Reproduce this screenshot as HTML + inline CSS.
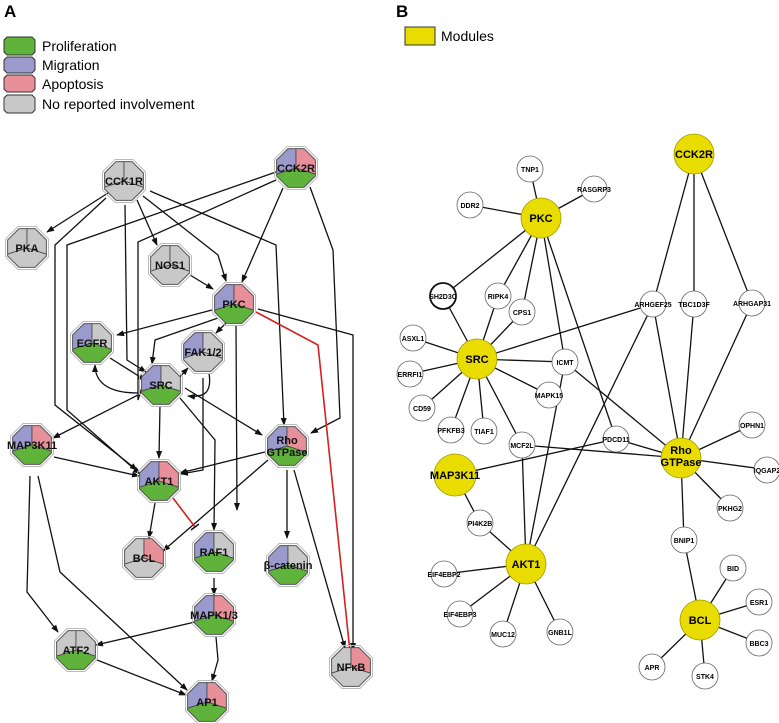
<!DOCTYPE html>
<html><head><meta charset="utf-8"><style>
body{margin:0;background:#fff}
svg{display:block;font-family:"Liberation Sans",Arial,sans-serif}
.e{fill:none;stroke:#111;stroke-width:1.3}
.r{fill:none;stroke:#d42020;stroke-width:1.6}
.o{fill:none;stroke:#555;stroke-width:1}
.h{fill:none;stroke:#bbb;stroke-width:1}
.s{stroke:#444;stroke-width:.8}
.t{font-size:11px;font-weight:bold;text-anchor:middle;fill:#111}
.b line{stroke:#111;stroke-width:1.3}
.c{fill:#fff;stroke:#666;stroke-width:.8}
.y{fill:#e8dc00;stroke:#a09800;stroke-width:.8}
.st{font-size:7px;font-weight:bold;text-anchor:middle}
.bt{font-size:11px;font-weight:bold;text-anchor:middle}
</style></head><body>
<svg width="779" height="723" viewBox="0 0 779 723">
<defs>
<clipPath id="oc"><path d="M8,-19.4L19.4,-8L19.4,8L8,19.4L-8,19.4L-19.4,8L-19.4,-8L-8,-19.4Z"/></clipPath>
<marker id="a" markerWidth="8" markerHeight="8" refX="7" refY="4" orient="auto" markerUnits="userSpaceOnUse"><path d="M0,1L8,4L0,7Z" fill="#111"/></marker>
<marker id="tb" markerWidth="2" markerHeight="10" refX="1" refY="5" orient="auto" markerUnits="userSpaceOnUse"><path d="M1,0V10" stroke="#111" stroke-width="1.5"/></marker>
</defs>
<!-- legend A -->
<text x="4" y="17" font-size="17" font-weight="bold">A</text>
<path d="M7,37H32L35,40V52L32,55H7L4,52V40Z" fill="#5fb33a" stroke="#333"/>
<path d="M7,57H32L35,60V70L32,73H7L4,70V60Z" fill="#9a9acc" stroke="#333"/>
<path d="M7,75H32L35,78V89L32,92H7L4,89V78Z" fill="#e8909a" stroke="#333"/>
<path d="M7,95H32L35,98V110L32,113H7L4,110V98Z" fill="#c8c8c8" stroke="#333"/>
<text x="42" y="51" font-size="14">Proliferation</text>
<text x="42" y="70" font-size="14">Migration</text>
<text x="42" y="89" font-size="14">Apoptosis</text>
<text x="42" y="109" font-size="14">No reported involvement</text>
<text x="396" y="17" font-size="17" font-weight="bold">B</text>
<rect x="405" y="27" width="30" height="18" fill="#e8dc00" stroke="#333"/>
<text x="441" y="41" font-size="14">Modules</text>

<!-- edges A -->
<g>
<polyline class="e" points="108,193 47,232" marker-end="url(#a)"/>
<polyline class="e" points="106,198 55,245 55,405 137,470" marker-end="url(#a)"/>
<polyline class="e" points="276,172 67,245 67,410 140,474" marker-end="url(#a)"/>
<polyline class="e" points="125,205 127,360 146,372" marker-end="url(#a)"/>
<polyline class="e" points="137,200 157,245" marker-end="url(#a)"/>
<polyline class="e" points="143,196 218,255 226,281" marker-end="url(#a)"/>
<polyline class="e" points="150,191 276,245 284,425" marker-end="url(#a)"/>
<polyline class="e" points="276,180 138,242 138,400 145,378" />
<polyline class="e" points="283,188 242,282" marker-end="url(#a)"/>
<polyline class="e" points="310,187 333,250 340,418 311,433" marker-end="url(#a)"/>
<polyline class="e" points="190,275 213,289" marker-end="url(#a)"/>
<polyline class="e" points="212,310 117,335" marker-end="url(#a)"/>
<polyline class="e" points="226,323 216,333" marker-end="url(#a)"/>
<polyline class="e" points="218,318 155,340 152,364" marker-end="url(#a)"/>
<polyline class="e" points="236,325 237,510" marker-end="url(#a)"/>
<polyline class="r" points="256,312 318,345 350,652" marker-end="url(#tb)"/>
<polyline class="e" points="258,309 353,335 353,650" marker-end="url(#a)"/>
<polyline class="e" points="110,358 145,380" marker-end="url(#a)"/>
<path class="e" d="M138,393 C105,393 95,380 95,365" marker-end="url(#a)"/>
<polyline class="e" points="177,380 188,368" marker-end="url(#a)"/>
<path class="e" d="M209,373 C212,392 205,398 188,396" marker-end="url(#a)"/>
<polyline class="e" points="203,378 203,470 181,474" marker-end="url(#a)"/>
<polyline class="e" points="138,395 53,438" marker-end="url(#a)"/>
<polyline class="e" points="160,406 159,458" marker-end="url(#a)"/>
<polyline class="e" points="180,398 215,440 214,530" marker-end="url(#a)"/>
<polyline class="e" points="185,388 262,435" marker-end="url(#a)"/>
<polyline class="e" points="54,457 139,476" marker-end="url(#a)"/>
<polyline class="e" points="30,476 27,592 58,632" marker-end="url(#a)"/>
<polyline class="e" points="38,476 60,572 187,690" marker-end="url(#a)"/>
<polyline class="e" points="265,452 180,473" marker-end="url(#a)"/>
<polyline class="e" points="268,460 163,551" marker-end="url(#a)"/>
<polyline class="e" points="287,470 287,538" marker-end="url(#a)"/>
<polyline class="e" points="294,470 345,648" marker-end="url(#a)"/>
<polyline class="e" points="155,503 149,538" marker-end="url(#a)"/>
<polyline class="r" points="173,498 195,527" marker-end="url(#tb)"/>
<polyline class="e" points="214,578 214,595" marker-end="url(#a)"/>
<polyline class="e" points="195,622 96,645" marker-end="url(#a)"/>
<polyline class="e" points="216,637 218,660 212,681" marker-end="url(#a)"/>
<polyline class="e" points="97,660 186,695" marker-end="url(#a)"/>
</g>

<!-- nodes A -->
<g id="nodesA">
<g transform="translate(124,181)"><path class="h" d="M9,-21.5L21.5,-9L21.5,9L9,21.5L-9,21.5L-21.5,9L-21.5,-9L-9,-21.5Z"/><g clip-path="url(#oc)"><path class="s" d="M0 0V-22H-22V7Z" fill="#c8c8c8"/><path class="s" d="M0 0V-22H22V7Z" fill="#c8c8c8"/><path class="s" d="M0 0L-22 7V22H22V7Z" fill="#c8c8c8"/></g><path class="o" d="M8,-19.4L19.4,-8L19.4,8L8,19.4L-8,19.4L-19.4,8L-19.4,-8L-8,-19.4Z"/><text class="t" y="4">CCK1R</text></g>
<g transform="translate(296,168)"><path class="h" d="M9,-21.5L21.5,-9L21.5,9L9,21.5L-9,21.5L-21.5,9L-21.5,-9L-9,-21.5Z"/><g clip-path="url(#oc)"><path class="s" d="M0 0V-22H-22V7Z" fill="#9a9acc"/><path class="s" d="M0 0V-22H22V7Z" fill="#e8909a"/><path class="s" d="M0 0L-22 7V22H22V7Z" fill="#5fb33a"/></g><path class="o" d="M8,-19.4L19.4,-8L19.4,8L8,19.4L-8,19.4L-19.4,8L-19.4,-8L-8,-19.4Z"/><text class="t" y="4">CCK2R</text></g>
<g transform="translate(27,248)"><path class="h" d="M9,-21.5L21.5,-9L21.5,9L9,21.5L-9,21.5L-21.5,9L-21.5,-9L-9,-21.5Z"/><g clip-path="url(#oc)"><path class="s" d="M0 0V-22H-22V7Z" fill="#c8c8c8"/><path class="s" d="M0 0V-22H22V7Z" fill="#c8c8c8"/><path class="s" d="M0 0L-22 7V22H22V7Z" fill="#c8c8c8"/></g><path class="o" d="M8,-19.4L19.4,-8L19.4,8L8,19.4L-8,19.4L-19.4,8L-19.4,-8L-8,-19.4Z"/><text class="t" y="4">PKA</text></g>
<g transform="translate(170,265)"><path class="h" d="M9,-21.5L21.5,-9L21.5,9L9,21.5L-9,21.5L-21.5,9L-21.5,-9L-9,-21.5Z"/><g clip-path="url(#oc)"><path class="s" d="M0 0V-22H-22V7Z" fill="#c8c8c8"/><path class="s" d="M0 0V-22H22V7Z" fill="#c8c8c8"/><path class="s" d="M0 0L-22 7V22H22V7Z" fill="#c8c8c8"/></g><path class="o" d="M8,-19.4L19.4,-8L19.4,8L8,19.4L-8,19.4L-19.4,8L-19.4,-8L-8,-19.4Z"/><text class="t" y="4">NOS1</text></g>
<g transform="translate(234,304)"><path class="h" d="M9,-21.5L21.5,-9L21.5,9L9,21.5L-9,21.5L-21.5,9L-21.5,-9L-9,-21.5Z"/><g clip-path="url(#oc)"><path class="s" d="M0 0V-22H-22V7Z" fill="#9a9acc"/><path class="s" d="M0 0V-22H22V7Z" fill="#e8909a"/><path class="s" d="M0 0L-22 7V22H22V7Z" fill="#5fb33a"/></g><path class="o" d="M8,-19.4L19.4,-8L19.4,8L8,19.4L-8,19.4L-19.4,8L-19.4,-8L-8,-19.4Z"/><text class="t" y="4">PKC</text></g>
<g transform="translate(92,343)"><path class="h" d="M9,-21.5L21.5,-9L21.5,9L9,21.5L-9,21.5L-21.5,9L-21.5,-9L-9,-21.5Z"/><g clip-path="url(#oc)"><path class="s" d="M0 0V-22H-22V7Z" fill="#9a9acc"/><path class="s" d="M0 0V-22H22V7Z" fill="#c8c8c8"/><path class="s" d="M0 0L-22 7V22H22V7Z" fill="#5fb33a"/></g><path class="o" d="M8,-19.4L19.4,-8L19.4,8L8,19.4L-8,19.4L-19.4,8L-19.4,-8L-8,-19.4Z"/><text class="t" y="4">EGFR</text></g>
<g transform="translate(203,352)"><path class="h" d="M9,-21.5L21.5,-9L21.5,9L9,21.5L-9,21.5L-21.5,9L-21.5,-9L-9,-21.5Z"/><g clip-path="url(#oc)"><path class="s" d="M0 0V-22H-22V7Z" fill="#9a9acc"/><path class="s" d="M0 0V-22H22V7Z" fill="#c8c8c8"/><path class="s" d="M0 0L-22 7V22H22V7Z" fill="#c8c8c8"/></g><path class="o" d="M8,-19.4L19.4,-8L19.4,8L8,19.4L-8,19.4L-19.4,8L-19.4,-8L-8,-19.4Z"/><text class="t" y="4">FAK1/2</text></g>
<g transform="translate(161,385)"><path class="h" d="M9,-21.5L21.5,-9L21.5,9L9,21.5L-9,21.5L-21.5,9L-21.5,-9L-9,-21.5Z"/><g clip-path="url(#oc)"><path class="s" d="M0 0V-22H-22V7Z" fill="#9a9acc"/><path class="s" d="M0 0V-22H22V7Z" fill="#c8c8c8"/><path class="s" d="M0 0L-22 7V22H22V7Z" fill="#5fb33a"/></g><path class="o" d="M8,-19.4L19.4,-8L19.4,8L8,19.4L-8,19.4L-19.4,8L-19.4,-8L-8,-19.4Z"/><text class="t" y="4">SRC</text></g>
<g transform="translate(32,445)"><path class="h" d="M9,-21.5L21.5,-9L21.5,9L9,21.5L-9,21.5L-21.5,9L-21.5,-9L-9,-21.5Z"/><g clip-path="url(#oc)"><path class="s" d="M0 0V-22H-22V7Z" fill="#9a9acc"/><path class="s" d="M0 0V-22H22V7Z" fill="#e8909a"/><path class="s" d="M0 0L-22 7V22H22V7Z" fill="#5fb33a"/></g><path class="o" d="M8,-19.4L19.4,-8L19.4,8L8,19.4L-8,19.4L-19.4,8L-19.4,-8L-8,-19.4Z"/><text class="t" y="4">MAP3K11</text></g>
<g transform="translate(159,481)"><path class="h" d="M9,-21.5L21.5,-9L21.5,9L9,21.5L-9,21.5L-21.5,9L-21.5,-9L-9,-21.5Z"/><g clip-path="url(#oc)"><path class="s" d="M0 0V-22H-22V7Z" fill="#9a9acc"/><path class="s" d="M0 0V-22H22V7Z" fill="#e8909a"/><path class="s" d="M0 0L-22 7V22H22V7Z" fill="#5fb33a"/></g><path class="o" d="M8,-19.4L19.4,-8L19.4,8L8,19.4L-8,19.4L-19.4,8L-19.4,-8L-8,-19.4Z"/><text class="t" y="4">AKT1</text></g>
<g transform="translate(287,446)"><path class="h" d="M9,-21.5L21.5,-9L21.5,9L9,21.5L-9,21.5L-21.5,9L-21.5,-9L-9,-21.5Z"/><g clip-path="url(#oc)"><path class="s" d="M0 0V-22H-22V7Z" fill="#9a9acc"/><path class="s" d="M0 0V-22H22V7Z" fill="#e8909a"/><path class="s" d="M0 0L-22 7V22H22V7Z" fill="#5fb33a"/></g><path class="o" d="M8,-19.4L19.4,-8L19.4,8L8,19.4L-8,19.4L-19.4,8L-19.4,-8L-8,-19.4Z"/><text class="t" y="-2">Rho</text><text class="t" y="10">GTPase</text></g>
<g transform="translate(144,558)"><path class="h" d="M9,-21.5L21.5,-9L21.5,9L9,21.5L-9,21.5L-21.5,9L-21.5,-9L-9,-21.5Z"/><g clip-path="url(#oc)"><path class="s" d="M0 0V-22H-22V7Z" fill="#c8c8c8"/><path class="s" d="M0 0V-22H22V7Z" fill="#e8909a"/><path class="s" d="M0 0L-22 7V22H22V7Z" fill="#c8c8c8"/></g><path class="o" d="M8,-19.4L19.4,-8L19.4,8L8,19.4L-8,19.4L-19.4,8L-19.4,-8L-8,-19.4Z"/><text class="t" y="4">BCL</text></g>
<g transform="translate(214,552)"><path class="h" d="M9,-21.5L21.5,-9L21.5,9L9,21.5L-9,21.5L-21.5,9L-21.5,-9L-9,-21.5Z"/><g clip-path="url(#oc)"><path class="s" d="M0 0V-22H-22V7Z" fill="#9a9acc"/><path class="s" d="M0 0V-22H22V7Z" fill="#c8c8c8"/><path class="s" d="M0 0L-22 7V22H22V7Z" fill="#5fb33a"/></g><path class="o" d="M8,-19.4L19.4,-8L19.4,8L8,19.4L-8,19.4L-19.4,8L-19.4,-8L-8,-19.4Z"/><text class="t" y="4">RAF1</text></g>
<g transform="translate(288,565)"><path class="h" d="M9,-21.5L21.5,-9L21.5,9L9,21.5L-9,21.5L-21.5,9L-21.5,-9L-9,-21.5Z"/><g clip-path="url(#oc)"><path class="s" d="M0 0V-22H-22V7Z" fill="#9a9acc"/><path class="s" d="M0 0V-22H22V7Z" fill="#c8c8c8"/><path class="s" d="M0 0L-22 7V22H22V7Z" fill="#5fb33a"/></g><path class="o" d="M8,-19.4L19.4,-8L19.4,8L8,19.4L-8,19.4L-19.4,8L-19.4,-8L-8,-19.4Z"/><text class="t" y="4">β-catenin</text></g>
<g transform="translate(214,615)"><path class="h" d="M9,-21.5L21.5,-9L21.5,9L9,21.5L-9,21.5L-21.5,9L-21.5,-9L-9,-21.5Z"/><g clip-path="url(#oc)"><path class="s" d="M0 0V-22H-22V7Z" fill="#9a9acc"/><path class="s" d="M0 0V-22H22V7Z" fill="#e8909a"/><path class="s" d="M0 0L-22 7V22H22V7Z" fill="#5fb33a"/></g><path class="o" d="M8,-19.4L19.4,-8L19.4,8L8,19.4L-8,19.4L-19.4,8L-19.4,-8L-8,-19.4Z"/><text class="t" y="4">MAPK1/3</text></g>
<g transform="translate(76,650)"><path class="h" d="M9,-21.5L21.5,-9L21.5,9L9,21.5L-9,21.5L-21.5,9L-21.5,-9L-9,-21.5Z"/><g clip-path="url(#oc)"><path class="s" d="M0 0V-22H-22V7Z" fill="#c8c8c8"/><path class="s" d="M0 0V-22H22V7Z" fill="#c8c8c8"/><path class="s" d="M0 0L-22 7V22H22V7Z" fill="#5fb33a"/></g><path class="o" d="M8,-19.4L19.4,-8L19.4,8L8,19.4L-8,19.4L-19.4,8L-19.4,-8L-8,-19.4Z"/><text class="t" y="4">ATF2</text></g>
<g transform="translate(207,702)"><path class="h" d="M9,-21.5L21.5,-9L21.5,9L9,21.5L-9,21.5L-21.5,9L-21.5,-9L-9,-21.5Z"/><g clip-path="url(#oc)"><path class="s" d="M0 0V-22H-22V7Z" fill="#9a9acc"/><path class="s" d="M0 0V-22H22V7Z" fill="#e8909a"/><path class="s" d="M0 0L-22 7V22H22V7Z" fill="#5fb33a"/></g><path class="o" d="M8,-19.4L19.4,-8L19.4,8L8,19.4L-8,19.4L-19.4,8L-19.4,-8L-8,-19.4Z"/><text class="t" y="4">AP1</text></g>
<g transform="translate(351,667)"><path class="h" d="M9,-21.5L21.5,-9L21.5,9L9,21.5L-9,21.5L-21.5,9L-21.5,-9L-9,-21.5Z"/><g clip-path="url(#oc)"><path class="s" d="M0 0V-22H-22V7Z" fill="#c8c8c8"/><path class="s" d="M0 0V-22H22V7Z" fill="#e8909a"/><path class="s" d="M0 0L-22 7V22H22V7Z" fill="#c8c8c8"/></g><path class="o" d="M8,-19.4L19.4,-8L19.4,8L8,19.4L-8,19.4L-19.4,8L-19.4,-8L-8,-19.4Z"/><text class="t" y="4">NFκB</text></g>
</g>

<!-- panel B edges -->
<g class="b">
<line x1="694" y1="154" x2="653" y2="304"/><line x1="694" y1="154" x2="694" y2="304"/><line x1="694" y1="154" x2="752" y2="303"/>
<line x1="541" y1="218" x2="530" y2="169"/><line x1="541" y1="218" x2="594" y2="189"/><line x1="541" y1="218" x2="470" y2="205"/>
<line x1="541" y1="218" x2="443" y2="296"/><line x1="541" y1="218" x2="498" y2="296"/><line x1="541" y1="218" x2="522" y2="312"/>
<line x1="541" y1="218" x2="565" y2="362"/><line x1="541" y1="218" x2="616" y2="439"/>
<line x1="477" y1="359" x2="443" y2="296"/><line x1="477" y1="359" x2="498" y2="296"/><line x1="477" y1="359" x2="522" y2="312"/>
<line x1="477" y1="359" x2="413" y2="338"/><line x1="477" y1="359" x2="410" y2="374"/><line x1="477" y1="359" x2="422" y2="408"/>
<line x1="477" y1="359" x2="451" y2="430"/><line x1="477" y1="359" x2="484" y2="431"/><line x1="477" y1="359" x2="522" y2="445"/>
<line x1="477" y1="359" x2="549" y2="395"/><line x1="477" y1="359" x2="565" y2="362"/><line x1="477" y1="359" x2="653" y2="304"/>
<line x1="653" y1="304" x2="526" y2="564"/><line x1="653" y1="304" x2="681" y2="458"/><line x1="694" y1="304" x2="681" y2="458"/><line x1="752" y1="303" x2="681" y2="458"/>
<line x1="565" y1="362" x2="526" y2="564"/><line x1="565" y1="362" x2="681" y2="458"/>
<line x1="522" y1="445" x2="526" y2="564"/><line x1="522" y1="445" x2="681" y2="458"/>
<line x1="455" y1="475" x2="616" y2="439"/><line x1="616" y1="439" x2="681" y2="458"/>
<line x1="681" y1="458" x2="752" y2="425"/><line x1="681" y1="458" x2="770" y2="470"/><line x1="681" y1="458" x2="730" y2="508"/><line x1="681" y1="458" x2="684" y2="540"/>
<line x1="684" y1="540" x2="700" y2="620"/>
<line x1="700" y1="620" x2="733" y2="568"/><line x1="700" y1="620" x2="759" y2="602"/><line x1="700" y1="620" x2="759" y2="643"/><line x1="700" y1="620" x2="652" y2="667"/><line x1="700" y1="620" x2="705" y2="676"/>
<line x1="455" y1="475" x2="480" y2="523"/><line x1="480" y1="523" x2="526" y2="564"/>
<line x1="526" y1="564" x2="444" y2="574"/><line x1="526" y1="564" x2="460" y2="614"/><line x1="526" y1="564" x2="503" y2="634"/><line x1="526" y1="564" x2="560" y2="632"/>
</g>
<!-- panel B nodes -->
<g>
<circle class="y" cx="694" cy="154" r="20"/><text class="bt" x="694" y="158">CCK2R</text>
<circle class="y" cx="541" cy="218" r="20"/><text class="bt" x="541" y="222">PKC</text>
<circle class="y" cx="477" cy="359" r="20"/><text class="bt" x="477" y="363">SRC</text>
<circle class="y" cx="455" cy="475" r="21"/><text class="bt" x="455" y="479">MAP3K11</text>
<circle class="y" cx="526" cy="564" r="20"/><text class="bt" x="526" y="568">AKT1</text>
<circle class="y" cx="681" cy="458" r="20"/><text class="bt" x="681" y="454">Rho</text><text class="bt" x="681" y="466">GTPase</text>
<circle class="y" cx="700" cy="620" r="20"/><text class="bt" x="700" y="624">BCL</text>
</g>
<g>
<circle class="c" cx="530" cy="169" r="13"/><text class="st" x="530" y="172">TNP1</text>
<circle class="c" cx="594" cy="189" r="13"/><text class="st" x="594" y="192">RASGRP3</text>
<circle class="c" cx="470" cy="205" r="13"/><text class="st" x="470" y="208">DDR2</text>
<circle cx="443" cy="296" r="13" fill="#fff" stroke="#111" stroke-width="1.8"/><text class="st" x="443" y="299">SH2D3C</text>
<circle class="c" cx="498" cy="296" r="13"/><text class="st" x="498" y="299">RIPK4</text>
<circle class="c" cx="522" cy="312" r="13"/><text class="st" x="522" y="315">CPS1</text>
<circle class="c" cx="413" cy="338" r="13"/><text class="st" x="413" y="341">ASXL1</text>
<circle class="c" cx="410" cy="374" r="13"/><text class="st" x="410" y="377">ERRFI1</text>
<circle class="c" cx="422" cy="408" r="13"/><text class="st" x="422" y="411">CD59</text>
<circle class="c" cx="451" cy="430" r="13"/><text class="st" x="451" y="433">PFKFB3</text>
<circle class="c" cx="484" cy="431" r="13"/><text class="st" x="484" y="434">TIAF1</text>
<circle class="c" cx="522" cy="445" r="13"/><text class="st" x="522" y="448">MCF2L</text>
<circle class="c" cx="565" cy="362" r="13"/><text class="st" x="565" y="365">ICMT</text>
<circle class="c" cx="549" cy="395" r="13"/><text class="st" x="549" y="398">MAPK15</text>
<circle class="c" cx="616" cy="439" r="13"/><text class="st" x="616" y="442">PDCD11</text>
<circle class="c" cx="653" cy="304" r="13"/><text class="st" x="653" y="307">ARHGEF25</text>
<circle class="c" cx="694" cy="304" r="13"/><text class="st" x="694" y="307">TBC1D3F</text>
<circle class="c" cx="752" cy="303" r="13"/><text class="st" x="752" y="306">ARHGAP31</text>
<circle class="c" cx="752" cy="425" r="13"/><text class="st" x="752" y="428">OPHN1</text>
<circle class="c" cx="767" cy="470" r="13"/><text class="st" x="767" y="473">IQGAP2</text>
<circle class="c" cx="730" cy="508" r="13"/><text class="st" x="730" y="511">PKHG2</text>
<circle class="c" cx="684" cy="540" r="13"/><text class="st" x="684" y="543">BNIP1</text>
<circle class="c" cx="733" cy="568" r="13"/><text class="st" x="733" y="571">BID</text>
<circle class="c" cx="759" cy="602" r="13"/><text class="st" x="759" y="605">ESR1</text>
<circle class="c" cx="759" cy="643" r="13"/><text class="st" x="759" y="646">BBC3</text>
<circle class="c" cx="652" cy="667" r="13"/><text class="st" x="652" y="670">APR</text>
<circle class="c" cx="705" cy="676" r="13"/><text class="st" x="705" y="679">STK4</text>
<circle class="c" cx="480" cy="523" r="13"/><text class="st" x="480" y="526">PI4K2B</text>
<circle class="c" cx="444" cy="574" r="13"/><text class="st" x="444" y="577">EIF4EBP2</text>
<circle class="c" cx="460" cy="614" r="13"/><text class="st" x="460" y="617">EIF4EBP3</text>
<circle class="c" cx="503" cy="634" r="13"/><text class="st" x="503" y="637">MUC12</text>
<circle class="c" cx="560" cy="632" r="13"/><text class="st" x="560" y="635">GNB1L</text>
</g>
</svg>
</body></html>
